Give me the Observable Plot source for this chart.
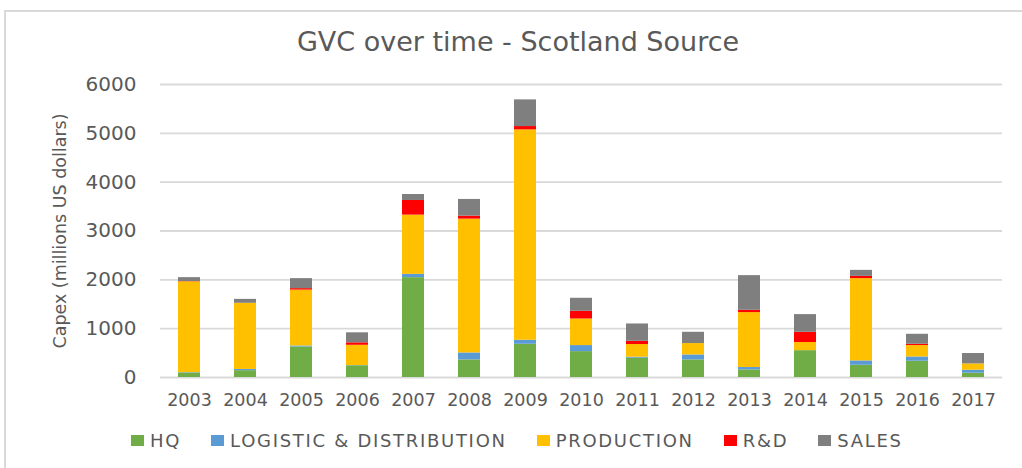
<!DOCTYPE html>
<html>
<head>
<meta charset="utf-8">
<script src="https://cdn.jsdelivr.net/npm/d3@7"></script>
<script src="https://cdn.jsdelivr.net/npm/@observablehq/plot@0.6"></script>
<style>
  html, body { margin: 0; padding: 0; background: #fff; }
  #wrap { position: relative; width: 1022px; height: 468px; overflow: hidden; font-family: "DejaVu Sans", sans-serif; color: #595959; }
  #frame { position: absolute; left: 4px; top: 10px; width: 1030px; height: 470px; border-left: 2px solid #d9d9d9; border-top: 2px solid #d9d9d9; box-sizing: border-box; }
  #title { position: absolute; left: 0; top: 0; width: 1022px; height: 65px; box-sizing: border-box; padding-top: 28px; padding-left: 14px; text-align: center; font-size: 27px; line-height: 28px; color: #595959; }
  #chart { position: absolute; left: 0; top: 65px; }
  #legend { position: absolute; left: 131px; top: 430px; display: flex; align-items: center; gap: 30px; font-size: 18px; letter-spacing: 1.7px; color: #595959; }
  .item { display: flex; align-items: center; gap: 6px; white-space: nowrap; }
  .sw { width: 13px; height: 11px; }
</style>
</head>
<body>
<div id="wrap">
  <div id="frame"></div>
  <div id="title">GVC over time - Scotland Source</div>
  <div id="chart"></div>
  <div id="legend"></div>
</div>
<script>
const years = [2003, 2004, 2005, 2006, 2007, 2008, 2009, 2010, 2011, 2012, 2013, 2014, 2015, 2016, 2017];
const hq         = [90, 140, 625, 240, 2045, 360, 680, 530, 395, 360, 155, 550, 250, 333, 88];
const logistic   = [10, 25, 20, 5, 67, 143, 83, 124, 20, 102, 49, 0, 90, 88, 61];
const production = [1860, 1355, 1145, 415, 1213, 2740, 4308, 544, 260, 233, 1125, 166, 1685, 233, 129];
const rnd        = [5, 0, 30, 50, 300, 62, 68, 158, 67, 0, 47, 210, 46, 27, 0];
const sales      = [80, 80, 205, 205, 122, 341, 546, 266, 354, 231, 710, 362, 123, 204, 213];
const categories = ["HQ", "LOGISTIC & DISTRIBUTION", "PRODUCTION", "R&D", "SALES"];
const colors = ["#70AD47", "#5B9BD5", "#FFC000", "#FF0000", "#7F7F7F"];
const yTicks = [0, 1000, 2000, 3000, 4000, 5000, 6000];
const yLabel = "Capex (millions US dollars)";

const series = [hq, logistic, production, rnd, sales];
const rows = years.flatMap((yr, i) =>
  categories.map((c, j) => ({ year: String(yr), category: c, value: series[j][i] }))
);

const chart = Plot.plot({
  width: 1022,
  height: 350,
  marginLeft: 160,
  marginRight: 20,
  marginTop: 19,
  marginBottom: 38,
  style: { fontFamily: "DejaVu Sans", color: "#595959", background: "transparent", overflow: "visible" },
  x: { domain: years.map(String), paddingInner: 0.61, paddingOuter: 0.305, label: null },
  y: { domain: [0, 6000], label: null },
  color: { domain: categories, range: colors },
  marks: [
    Plot.gridY(yTicks, { stroke: "#d9d9d9", strokeOpacity: 1, strokeWidth: 1.8 }),
    Plot.barY(rows, { x: "year", y: "value", fill: "category", order: null }),
    Plot.axisX({ tickSize: 0, tickPadding: 16, fontSize: 17.5, label: null, fill: "#595959" }),
    Plot.axisY(yTicks, { tickSize: 0, tickPadding: 24, fontSize: 20, tickFormat: d3.format("d"), label: null, fill: "#595959" }),
    Plot.axisY([], { tickSize: 0, fontSize: 17.5, label: yLabel, labelAnchor: "center", labelArrow: "none", labelOffset: 107, fill: "#595959" })
  ]
});
document.getElementById("chart").appendChild(chart);

const legend = document.getElementById("legend");
categories.forEach((c, i) => {
  const item = document.createElement("div");
  item.className = "item";
  const sw = document.createElement("span");
  sw.className = "sw";
  sw.style.background = colors[i];
  const tx = document.createElement("span");
  tx.textContent = c;
  item.appendChild(sw);
  item.appendChild(tx);
  legend.appendChild(item);
});
</script>
</body>
</html>
